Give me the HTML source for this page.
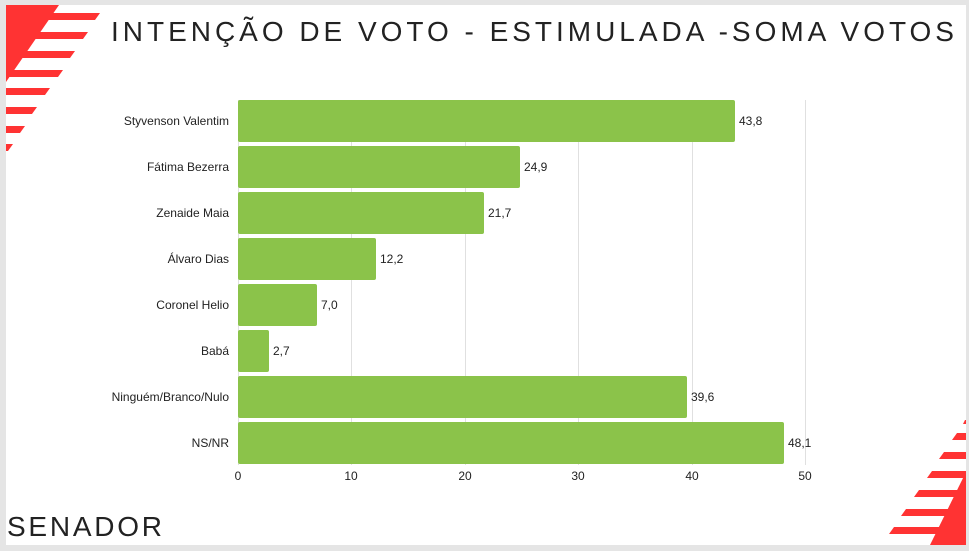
<!DOCTYPE html>
<html><head><meta charset="utf-8"><style>
html,body{margin:0;padding:0;background:#e5e5e5;}
svg{display:block;}
</style></head><body>
<svg width="969" height="551" xmlns="http://www.w3.org/2000/svg" font-family="Liberation Sans, sans-serif">
<rect x="0" y="0" width="969" height="551" fill="#e5e5e5"/>
<rect x="6" y="5" width="960" height="540" fill="#fff"/>
<g fill="#ff3333">
<polygon points="6,5 59,5 6,82"/>
<polygon points="6,13 100,13 95,20 6,20"/>
<polygon points="6,32 88,32 83,39 6,39"/>
<polygon points="6,51 75,51 70,58 6,58"/>
<polygon points="6,70 63,70 58,77 6,77"/>
<polygon points="6,88 50,88 45,95 6,95"/>
<polygon points="6,107 37,107 32,114 6,114"/>
<polygon points="6,126 25,126 20,133 6,133"/>
<polygon points="6,144 13,144 8,151 6,151"/>
<polygon points="966,545 930,545 966,472"/>
<polygon points="966,420 965,420 963,424 966,424"/>
<polygon points="966,433 957,433 952,440 966,440"/>
<polygon points="966,452 944,452 939,459 966,459"/>
<polygon points="966,471 932,471 927,478 966,478"/>
<polygon points="966,490 919,490 914,497 966,497"/>
<polygon points="966,509 906,509 901,516 966,516"/>
<polygon points="966,527 894,527 889,534 966,534"/>
</g>
<text x="111" y="41" font-size="28" textLength="843" lengthAdjust="spacing" fill="#222">INTENÇÃO DE VOTO - ESTIMULADA -SOMA VOTOS</text>
<text x="7" y="536" font-size="28" textLength="155" lengthAdjust="spacing" fill="#222">SENADOR</text>
<g stroke="#e0e0e0" stroke-width="1">
<line x1="238.5" y1="100" x2="238.5" y2="465"/>
<line x1="351.5" y1="100" x2="351.5" y2="465"/>
<line x1="465.5" y1="100" x2="465.5" y2="465"/>
<line x1="578.5" y1="100" x2="578.5" y2="465"/>
<line x1="692.5" y1="100" x2="692.5" y2="465"/>
<line x1="805.5" y1="100" x2="805.5" y2="465"/>
</g>
<g fill="#8bc34a">
<rect x="238" y="100" width="497" height="42" rx="2"/>
<rect x="238" y="146" width="282" height="42" rx="2"/>
<rect x="238" y="192" width="246" height="42" rx="2"/>
<rect x="238" y="238" width="138" height="42" rx="2"/>
<rect x="238" y="284" width="79" height="42" rx="2"/>
<rect x="238" y="330" width="31" height="42" rx="2"/>
<rect x="238" y="376" width="449" height="42" rx="2"/>
<rect x="238" y="422" width="546" height="42" rx="2"/>
</g>
<g font-size="12" fill="#222">
<text x="739" y="125">43,8</text>
<text x="524" y="171">24,9</text>
<text x="488" y="217">21,7</text>
<text x="380" y="263">12,2</text>
<text x="321" y="309">7,0</text>
<text x="273" y="355">2,7</text>
<text x="691" y="401">39,6</text>
<text x="788" y="447">48,1</text>
</g>
<g font-size="12" fill="#222" text-anchor="end">
<text x="229" y="125">Styvenson Valentim</text>
<text x="229" y="171">Fátima Bezerra</text>
<text x="229" y="217">Zenaide Maia</text>
<text x="229" y="263">Álvaro Dias</text>
<text x="229" y="309">Coronel Helio</text>
<text x="229" y="355">Babá</text>
<text x="229" y="401">Ninguém/Branco/Nulo</text>
<text x="229" y="447">NS/NR</text>
</g>
<g font-size="12" fill="#222" text-anchor="middle">
<text x="238" y="480">0</text>
<text x="351" y="480">10</text>
<text x="465" y="480">20</text>
<text x="578" y="480">30</text>
<text x="692" y="480">40</text>
<text x="805" y="480">50</text>
</g>
</svg>
</body></html>
